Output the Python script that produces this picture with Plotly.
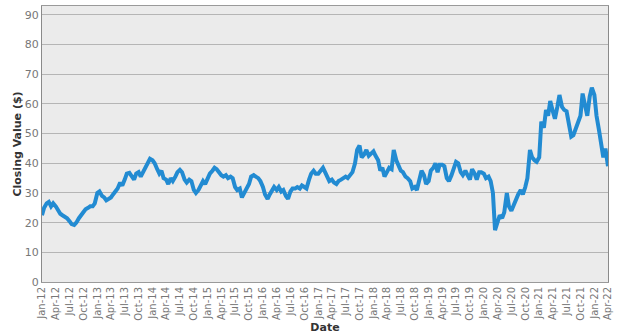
import pandas as pd
import plotly.graph_objects as go

# Semi-monthly closing values (1st and 15th of each month)
v2012 = [22.5, 25.0, 26.5, 27.0, 25.5, 26.5, 25.5, 24.0, 23.0, 22.5, 22.0, 21.5,
         20.5, 19.5, 19.2, 20.0, 21.5, 22.5, 24.0, 24.5, 25.0, 25.5, 25.5, 26.5]
v2013 = [30.0, 30.5, 29.0, 28.5, 27.5, 28.0, 28.5, 29.5, 30.5, 31.5, 33.5, 32.5,
         34.5, 36.5, 36.8, 35.5, 34.5, 36.5, 37.0, 35.5, 37.0, 38.5, 40.0, 41.5]
v2014 = [41.0, 40.0, 38.0, 36.5, 37.5, 35.0, 34.5, 33.0, 35.0, 34.0, 35.5, 37.0,
         37.8, 37.0, 34.5, 33.5, 34.5, 34.0, 31.0, 30.0, 31.0, 32.5, 34.0, 33.0]
v2015 = [35.0, 36.5, 37.5, 38.5, 38.0, 37.0, 36.0, 35.5, 36.0, 35.0, 35.5, 35.0,
         32.0, 31.0, 31.5, 28.5, 30.0, 31.0, 33.0, 35.5, 36.0, 35.5, 35.0, 34.0]
v2016 = [32.0, 29.5, 28.0, 29.5, 31.0, 32.0, 31.0, 32.0, 30.5, 31.0, 29.0, 28.0,
         30.5, 31.5, 31.5, 32.0, 31.5, 32.5, 32.0, 31.5, 34.5, 36.5, 37.5, 36.5]
v2017 = [36.5, 37.5, 38.5, 37.0, 35.5, 34.0, 34.5, 33.5, 33.0, 34.0, 34.5, 35.0,
         35.5, 35.0, 36.0, 37.0, 40.0, 44.5, 46.0, 42.0, 43.0, 44.5, 42.5, 43.0]
v2018 = [44.0, 42.5, 41.0, 37.5, 38.5, 35.5, 37.5, 38.5, 38.0, 44.5, 41.0, 39.0,
         37.5, 37.0, 35.5, 35.0, 34.0, 31.5, 32.0, 31.0, 35.5, 37.5, 36.0, 33.0]
v2019 = [34.0, 37.5, 38.5, 40.0, 37.0, 39.5, 39.5, 39.0, 35.0, 34.0, 36.0, 38.0,
         40.5, 40.0, 37.0, 36.0, 37.5, 36.0, 34.5, 38.0, 36.5, 34.5, 37.0, 37.0]
v2020 = [36.5, 35.0, 35.5, 34.0, 30.0, 17.5, 21.0, 22.5, 21.5, 23.5, 30.0, 25.5,
         24.0, 26.0, 27.5, 29.5, 31.0, 29.5, 32.0, 35.0, 44.5, 42.0, 41.0, 40.5]
v2021 = [42.0, 54.0, 52.0, 58.0, 56.0, 61.0, 57.5, 55.0, 59.0, 63.0, 59.0, 58.0,
         57.5, 54.0, 49.0, 49.5, 52.0, 54.5, 56.0, 63.5, 60.0, 56.0, 62.5, 65.5]
v2022 = [63.0, 56.0, 51.0, 47.0, 42.0, 45.0, 39.0]

values = v2012 + v2013 + v2014 + v2015 + v2016 + v2017 + v2018 + v2019 + v2020 + v2021 + v2022
dates = pd.date_range("2012-01-01", periods=len(values), freq="SMS")

y_ticks = list(range(0, 100, 10))

fig = go.Figure()
fig.add_trace(go.Scatter(
    x=dates, y=values, mode="lines",
    line=dict(color="#228bd2", width=4),
    showlegend=False, hoverinfo="skip",
))

font_family = "DejaVu Sans"
fig.update_layout(
    width=629, height=336,
    margin=dict(l=42, r=21, t=5, b=52),
    paper_bgcolor="white",
    plot_bgcolor="#ebebeb",
    font=dict(family=font_family, size=10, color="#777777"),
    xaxis=dict(
        range=["2012-01-01", "2022-04-01"],
        tick0="2012-01-01", dtick="M3", tickformat="%b-%y",
        tickangle=-90, showgrid=False,
        showline=True, linecolor="#9a9a9a", linewidth=1, mirror=True,
        ticks="", tickfont=dict(size=10, color="#777777"),
        title=dict(text="<b>Date</b>", font=dict(size=11, color="#333333"), standoff=3),
    ),
    yaxis=dict(
        range=[0, 93], tickvals=y_ticks,
        showgrid=True, gridcolor="#b5b5b5", gridwidth=1,
        showline=True, linecolor="#8a8a8a", linewidth=1, mirror=True,
        zeroline=False, ticks="", tickfont=dict(size=11, color="#777777"),
        title=dict(text="<b>Closing Value ($)</b>", font=dict(size=11, color="#333333"), standoff=0),
    ),
)

fig.write_html("out.html")
